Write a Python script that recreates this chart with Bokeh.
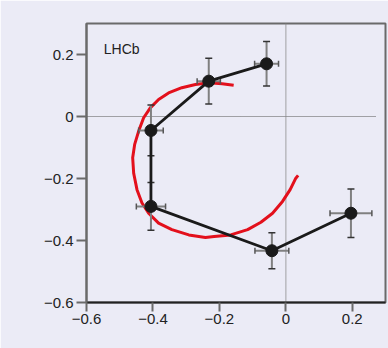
import math
from bokeh.plotting import figure
from bokeh.models import Range1d, Label, FixedTicker
from bokeh.embed import file_html
from bokeh.resources import INLINE

# data points (Re, Im) with errors
re_vals = [0.196, -0.042, -0.406, -0.406, -0.232, -0.058]
im_vals = [-0.312, -0.433, -0.290, -0.045, 0.114, 0.170]
re_err = [0.063, 0.051, 0.044, 0.037, 0.035, 0.036]
im_err = [0.078, 0.058, 0.077, 0.082, 0.074, 0.072]

# red model curve
curve_re = [-0.157, -0.192, -0.232, -0.272, -0.313, -0.353, -0.383, -0.408, -0.428,
            -0.443, -0.455, -0.461, -0.458, -0.448, -0.433, -0.413, -0.383, -0.343,
            -0.292, -0.242, -0.216, -0.166, -0.115, -0.075, -0.040, -0.010, 0.013,
            0.030, 0.037]
curve_im = [0.101, 0.106, 0.109, 0.103, 0.093, 0.076, 0.055, 0.028, -0.004,
            -0.047, -0.090, -0.133, -0.183, -0.236, -0.279, -0.312, -0.344, -0.365,
            -0.382, -0.390, -0.387, -0.382, -0.365, -0.341, -0.312, -0.274, -0.236,
            -0.199, -0.190]

x_ticks = [-0.6, -0.4, -0.2, 0, 0.2]
y_ticks = [-0.6, -0.4, -0.2, 0, 0.2]
x_tick_labels = ["\u22120.6", "\u22120.4", "\u22120.2", "0", "0.2"]
y_tick_labels = ["\u22120.6", "\u22120.4", "\u22120.2", "0", "0.2"]

BG = "#ebebf6"
FONT = "Liberation Sans"

p = figure(width=388, height=348, output_backend="svg", toolbar_location=None,
           x_range=Range1d(-0.6, 0.3), y_range=Range1d(-0.6, 0.3),
           min_border_left=86, min_border_right=3, min_border_top=23, min_border_bottom=46)
p.background_fill_color = BG
p.border_fill_color = BG
p.outline_line_color = "#6a6a6a"
p.outline_line_width = 2
p.grid.visible = False

for ax, ticks, labels in ((p.xaxis[0], x_ticks, x_tick_labels), (p.yaxis[0], y_ticks, y_tick_labels)):
    ax.ticker = FixedTicker(ticks=ticks)
    ax.major_label_overrides = {t: l for t, l in zip(ticks, labels)}
    ax.minor_tick_line_color = None
    ax.major_tick_in = 0
    ax.major_tick_line_color = "#6a6a6a"
    ax.major_tick_line_width = 2
    ax.major_label_text_font = FONT
    ax.major_label_text_font_size = "15px"
    ax.major_label_text_color = "#222222"
    ax.axis_line_width = 2

p.xaxis.major_tick_out = 9
p.xaxis.major_label_standoff = 2
p.xaxis.axis_line_color = "#222222"
p.yaxis.major_tick_out = 10
p.yaxis.major_label_standoff = 3
p.yaxis.axis_line_color = "#6a6a6a"

# dotted reference lines
p.line([-0.6, 0.272], [0, 0], line_color="#555555", line_width=1, line_dash="1 1")
p.line([0, 0], [-0.6, 0.3], line_color="#888888", line_width=1.5, line_dash="1 1")

# red curve
p.line(curve_re, curve_im, line_color="#e3101c", line_width=3, line_join="round")

# error bars
xs0 = [x - e for x, e in zip(re_vals, re_err)]
xs1 = [x + e for x, e in zip(re_vals, re_err)]
ys0 = [y - e for y, e in zip(im_vals, im_err)]
ys1 = [y + e for y, e in zip(im_vals, im_err)]
p.segment(x0=re_vals, y0=ys0, x1=re_vals, y1=ys1, line_color="#808080", line_width=2)
p.segment(x0=xs0, y0=im_vals, x1=xs1, y1=im_vals, line_color="#808080", line_width=2)
p.scatter(re_vals + re_vals, ys0 + ys1, marker="dash", size=7, line_color="#333333", line_width=1.5)
p.scatter(xs0 + xs1, im_vals + im_vals, marker="dash", angle=math.pi / 2, size=6,
          line_color="#555555", line_width=1.5)

# connecting line and points
p.line(re_vals, im_vals, line_color="#1a1a1a", line_width=2.8)
p.scatter(re_vals, im_vals, size=12, fill_color="#1a1a1a", line_color="#1a1a1a")

p.add_layout(Label(x=-0.548, y=0.217, text="LHCb", text_font=FONT, text_font_size="14px",
                   text_color="#222222", text_baseline="alphabetic"))

# axis labels
p.add_layout(Label(x=-0.232, y=-0.720, text="Re A", text_font=FONT, text_font_size="15px",
                   text_color="#222222", text_baseline="top"))
p.add_layout(Label(x=-0.137, y=-0.705, text="Z\u2212", text_font=FONT, text_font_size="10px",
                   text_color="#222222", text_baseline="top"))
p.add_layout(Label(x=-0.742, y=-0.246, text="Im A", text_font=FONT, text_font_size="15px",
                   text_color="#222222", text_baseline="alphabetic", angle=math.pi / 2))
p.add_layout(Label(x=-0.757, y=-0.128, text="Z\u2212", text_font=FONT, text_font_size="10px",
                   text_color="#222222", text_baseline="alphabetic", angle=math.pi / 2))

open("out.html", "w").write(file_html(p, INLINE))
